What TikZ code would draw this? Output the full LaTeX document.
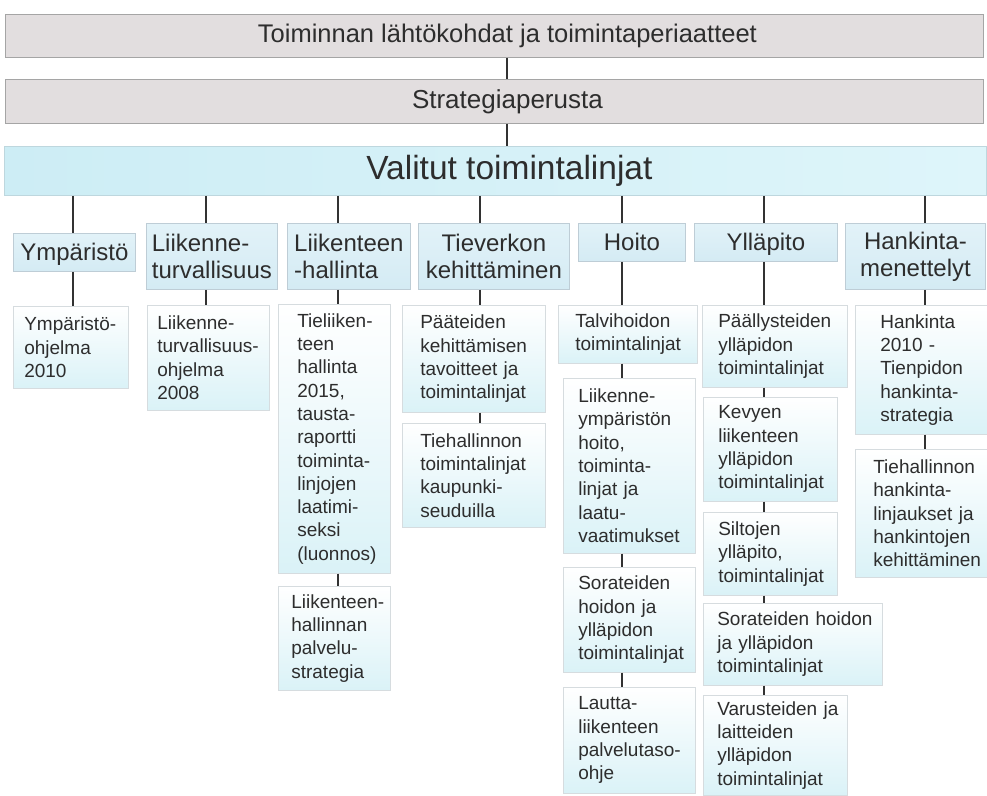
\documentclass[tikz,border=0pt]{standalone}
\usepackage{fontspec}
\setmainfont{Liberation Sans}
\usetikzlibrary{calc}
\newcommand\nohyphbreak{\exhyphenpenalty10000\relax\hyphenpenalty10000\relax}
\definecolor{txt}{RGB}{45,45,45}
\definecolor{linec}{RGB}{50,50,50}
\definecolor{topfill}{RGB}{226,222,223}
\definecolor{topdraw}{RGB}{165,165,165}
\definecolor{valL}{RGB}{205,237,245}
\definecolor{valR}{RGB}{222,245,250}
\definecolor{valdraw}{RGB}{190,215,222}
\definecolor{ltT}{RGB}{226,242,248}
\definecolor{ltB}{RGB}{212,235,244}
\definecolor{ltdraw}{RGB}{190,205,214}
\definecolor{lhB}{RGB}{218,242,247}
\definecolor{lhdraw}{RGB}{214,220,223}
\begin{document}
\begin{tikzpicture}[x=1pt,y=-1pt,
  conn/.style={draw=linec, line width=2pt},
  topbox/.style={draw=topdraw, fill=topfill, anchor=north west, inner sep=0pt, line width=0.8pt},
  toplab/.style={text=txt, xshift=13pt},
  valbox/.style={draw=valdraw, left color=valL, right color=valR, anchor=north west, inner sep=0pt, line width=0.8pt},
  lvtwo/.style={draw=ltdraw, top color=ltT, bottom color=ltB, anchor=north west, inner sep=0pt,
    font=\fontsize{24}{27}\selectfont\nohyphbreak, text=txt, line width=0.8pt},
  oneline/.style={text height=19pt, text depth=3pt},
  lvthree/.style={draw=lhdraw, top color=white, bottom color=lhB, anchor=north west, inner sep=0pt,
    align=left, font=\fontsize{19}{23.3}\selectfont\nohyphbreak, text=txt, line width=0.6pt},
]
\useasboundingbox[fill=white] (0,0) rectangle (987,795);

% column x positions
\coordinate (xm) at (507,0);
\coordinate (x1) at (73,0);
\coordinate (x2) at (206,0);
\coordinate (x3) at (338,0);
\coordinate (x4) at (480,0);
\coordinate (x5) at (622,0);
\coordinate (x6) at (764,0);
\coordinate (x7) at (925,0);

% top level
\node[topbox, minimum width=978, minimum height=43,
  label={[toplab, font=\fontsize{25.5}{30}\selectfont]center:Toiminnan lähtökohdat ja toimintaperiaatteet}] (t1) at (5,14) {};
\node[topbox, minimum width=978, minimum height=44,
  label={[toplab, font=\fontsize{26}{30}\selectfont]center:Strategiaperusta}] (t2) at (5,79) {};
\node[valbox, minimum width=982, minimum height=49,
  label={[toplab, xshift=1pt, font=\fontsize{33.5}{38}\selectfont]center:Valitut toimintalinjat}] (t3) at (4,146) {};

% second level
\node[lvtwo, oneline, minimum width=122, minimum height=38] (ya) at (13,233) {Ympäristö};
\node[lvtwo, minimum width=131, minimum height=66, align=left] (yb) at (146,223) {Liikenne-\\turvallisuus};
\node[lvtwo, minimum width=123, minimum height=66, align=left] (yc) at (287,223) {Liikenteen\\-hallinta};
\node[lvtwo, minimum width=151, minimum height=66, align=center] (yd) at (418,223) {Tieverkon\\kehittäminen};
\node[lvtwo, oneline, minimum width=107, minimum height=38] (ye) at (578,223) {Hoito};
\node[lvtwo, oneline, minimum width=143, minimum height=38] (yf) at (694,223) {Ylläpito};
\node[lvtwo, minimum width=140, minimum height=66, align=center] (yg) at (845,223) {Hankinta-\\menettelyt};

% third level
\node[lvthree, minimum width=115, minimum height=82, text width=93] (a1) at (13,306) {Ympäristö-\\ohjelma\\2010};
\node[lvthree, minimum width=122, minimum height=105, text width=102] (b1) at (147,305) {Liikenne-\\turvallisuus-\\ohjelma\\2008};
\node[lvthree, minimum width=112, minimum height=269, text width=74] (c1) at (278,304) {Tieliiken-\\teen\\hallinta\\2015,\\tausta-\\raportti\\toiminta-\\linjojen\\laatimi-\\seksi\\(luonnos)};
\node[lvthree, minimum width=112, minimum height=104, text width=86] (c2) at (278,586) {Liikenteen-\\hallinnan\\palvelu-\\strategia};
\node[lvthree, minimum width=143, minimum height=107, text width=107] (d1) at (402,305) {Pääteiden\\kehittämisen\\tavoitteet~ja\\toimintalinjat};
\node[lvthree, minimum width=143, minimum height=104, text width=107] (d2) at (402,423) {Tiehallinnon\\toimintalinjat\\kaupunki-\\seuduilla};
\node[lvthree, minimum width=139, minimum height=58, text width=105] (e1) at (558,305) {Talvihoidon\\toimintalinjat};
\node[lvthree, minimum width=132, minimum height=175, text width=102] (e2) at (563,378) {Liikenne-\\ympäristön\\hoito,\\toiminta-\\linjat~ja\\laatu-\\vaatimukset};
\node[lvthree, minimum width=132, minimum height=105, text width=102] (e3) at (563,567) {Sorateiden\\hoidon~ja\\ylläpidon\\toimintalinjat};
\node[lvthree, minimum width=132, minimum height=106, text width=102] (e4) at (563,687) {Lautta-\\liikenteen\\palvelutaso-\\ohje};
\node[lvthree, minimum width=145, minimum height=82, text width=113] (f1) at (702,305) {Päällysteiden\\ylläpidon\\toimintalinjat};
\node[lvthree, minimum width=134, minimum height=104, text width=104] (f2) at (703,397) {Kevyen\\liikenteen\\ylläpidon\\toimintalinjat};
\node[lvthree, minimum width=134, minimum height=83, text width=104] (f3) at (703,512) {Siltojen\\ylläpito,\\toimintalinjat};
\node[lvthree, minimum width=179, minimum height=82, text width=151] (f4) at (703,603) {Sorateiden~hoidon\\ja~ylläpidon\\toimintalinjat};
\node[lvthree, minimum width=144, minimum height=100, text width=116] (f5) at (703,695) {Varusteiden~ja\\laitteiden\\ylläpidon\\toimintalinjat};
\node[lvthree, minimum width=132, minimum height=129, text width=82] (g1) at (855,305) {Hankinta\\2010~-\\Tienpidon\\hankinta-\\strategia};
\node[lvthree, minimum width=132, minimum height=128, text width=96] (g2) at (855,449) {Tiehallinnon\\hankinta-\\linjaukset~ja\\hankintojen\\kehittäminen};

% connectors
\draw[conn] (xm |- t1.south) -- (xm |- t2.north);
\draw[conn] (xm |- t2.south) -- (xm |- t3.north);
\draw[conn] (x1 |- t3.south) -- (x1 |- ya.north);
\draw[conn] (x2 |- t3.south) -- (x2 |- yb.north);
\draw[conn] (x3 |- t3.south) -- (x3 |- yc.north);
\draw[conn] (x4 |- t3.south) -- (x4 |- yd.north);
\draw[conn] (x5 |- t3.south) -- (x5 |- ye.north);
\draw[conn] (x6 |- t3.south) -- (x6 |- yf.north);
\draw[conn] (x7 |- t3.south) -- (x7 |- yg.north);

\draw[conn] (x1 |- ya.south) -- (x1 |- a1.north);
\draw[conn] (x2 |- yb.south) -- (x2 |- b1.north);
\draw[conn] (x3 |- yc.south) -- (x3 |- c1.north);
\draw[conn] (x3 |- c1.south) -- (x3 |- c2.north);
\draw[conn] (x4 |- yd.south) -- (x4 |- d1.north);
\draw[conn] (x4 |- d1.south) -- (x4 |- d2.north);
\draw[conn] (x5 |- ye.south) -- (x5 |- e1.north);
\draw[conn] (x5 |- e1.south) -- (x5 |- e2.north);
\draw[conn] (x5 |- e2.south) -- (x5 |- e3.north);
\draw[conn] (x5 |- e3.south) -- (x5 |- e4.north);
\draw[conn] (x6 |- yf.south) -- (x6 |- f1.north);
\draw[conn] (x6 |- f1.south) -- (x6 |- f2.north);
\draw[conn] (x6 |- f2.south) -- (x6 |- f3.north);
\draw[conn] (x6 |- f3.south) -- (x6 |- f4.north);
\draw[conn] (x6 |- f4.south) -- (x6 |- f5.north);
\draw[conn] (x7 |- yg.south) -- (x7 |- g1.north);
\draw[conn] (x7 |- g1.south) -- (x7 |- g2.north);
\end{tikzpicture}
\end{document}
